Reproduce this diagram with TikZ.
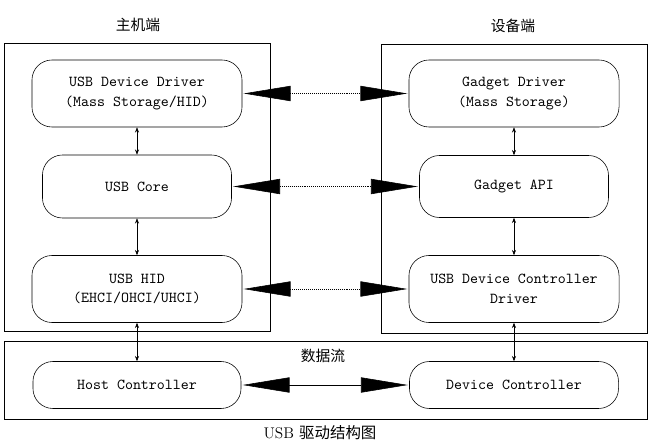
\documentclass[tikz,border=0pt]{standalone}
\usepackage{fontspec}
\newfontfamily\cjk{Noto Sans CJK SC}
\usetikzlibrary{arrows.meta}
\begin{document}
\begin{tikzpicture}[x=0.025cm, y=-0.025cm,
        blk/.style={draw, thin, rounded corners=0.5cm, align=center, inner sep=0pt,
            font=\fontsize{10.8}{14}\selectfont\ttfamily},
        wide/.style={minimum width=5.25cm, minimum height=1.675cm},
        big/.style={{Triangle[length=1.17cm,width=0.38cm]}-{Triangle[length=1.17cm,width=0.38cm]},
            densely dotted, thin, shorten <=1pt, shorten >=1pt},
        small/.style={{Stealth[length=1.3mm,width=1mm]}-{Stealth[length=1.3mm,width=1mm]}, thin},
        title/.style={font=\cjk\fontsize{10.5}{12}\selectfont}]
    \useasboundingbox (0,0) rectangle (652,446);
    % frames
    \draw[thin] (4,43) rectangle (270,331);
    \draw[thin] (381,44) rectangle (647,333);
    \draw[thin] (4,341) rectangle (647,419);
    \node[title] (hostside) at (138,25) {主机端};
    \node[title] (devside) at (513,26) {设备端};
    \node[title] (flow) at (323,356) {数据流};
    \node (caption) at (320,433) {\fontsize{11}{13}\selectfont USB \cjk 驱动结构图};
    % host side
    \node[blk, wide] (udd) at (137,93.5) {USB Device Driver\\(Mass Storage/HID)};
    \node[blk, minimum width=4.725cm, minimum height=1.575cm] (core) at (137,186.5) {USB Core};
    \node[blk, wide] (hid) at (137,289) {USB HID\\(EHCI/OHCI/UHCI)};
    \node[blk, minimum width=5.2cm, minimum height=1.175cm] (hc) at (137,385) {Host Controller};
    % device side
    \node[blk, wide] (gd) at (514,93.5) {Gadget Driver\\(Mass Storage)};
    \node[blk, minimum width=4.725cm, minimum height=1.55cm] (api) at (514,186.5) {Gadget API};
    \node[blk, wide] (dcd) at (514,289) {USB Device Controller\\Driver};
    \node[blk, minimum width=5.225cm, minimum height=1.175cm] (dc) at (514,385) {Device Controller};
    % layers
    \foreach \a/\b in {udd/core, core/hid, hid/hc, gd/api, api/dcd, dcd/dc}
        { \draw[small] (\a.south) -- (\b.north); }
    % peers
    \foreach \a/\b in {udd/gd, core/api, hid/dcd}
        { \draw[big] (\a.east) -- (\b.west); }
    \draw[big, solid] (hc.east) -- (dc.west);
\end{tikzpicture}
\end{document}
